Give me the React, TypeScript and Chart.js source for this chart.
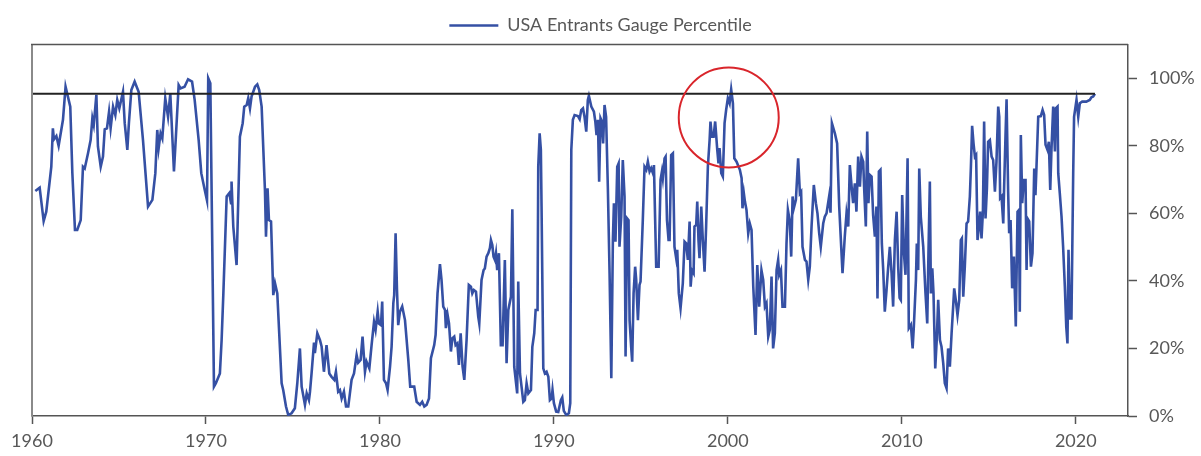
import React, { useEffect, useRef } from "react";
import { Chart, registerables } from "chart.js";

Chart.register(...registerables);

// ---- Data (decimal year, percentile %) ----
const years1960s = [1960.19, 1960.44, 1960.67, 1960.82, 1961.11, 1961.2, 1961.26, 1961.4, 1961.53, 1961.78, 1961.93, 1962.2, 1962.32, 1962.47, 1962.6, 1962.8, 1962.93, 1963.03, 1963.22, 1963.37, 1963.47, 1963.55, 1963.7, 1963.79, 1963.95, 1964.08, 1964.18, 1964.31, 1964.43, 1964.52, 1964.66, 1964.79, 1964.9, 1965.02, 1965.23, 1965.33, 1965.48, 1965.57, 1965.71, 1965.9, 1966.13, 1966.38, 1966.67, 1966.92, 1967.09, 1967.2, 1967.28, 1967.39, 1967.49, 1967.66, 1967.82, 1967.95, 1968.16, 1968.26, 1968.43, 1968.54, 1968.77, 1968.97, 1969.2, 1969.35, 1969.58, 1969.73, 1969.93];
const pct1960s = [66.6, 67.6, 57.7, 60.5, 73.8, 85.2, 81.9, 82.9, 80, 87.7, 97.5, 91.6, 71.9, 55.1, 55.1, 58, 73.8, 73.3, 77.8, 81.7, 88.2, 86.2, 95.1, 79.8, 73.8, 76.8, 84.9, 85.2, 90.1, 85.2, 91.6, 89.1, 93.6, 91.1, 96, 86.7, 78.8, 86.7, 96.5, 99, 96, 81.7, 62, 64, 71.9, 84.7, 79.3, 83.7, 82.2, 94.1, 88.6, 95.4, 72.4, 81.7, 98, 97, 97.5, 99.7, 99, 93.6, 81.7, 71.9, 66.9];

const years1970s = [1970.06, 1970.13, 1970.25, 1970.46, 1970.57, 1970.8, 1970.9, 1971, 1971.19, 1971.34, 1971.44, 1971.47, 1971.57, 1971.76, 1971.95, 1972.11, 1972.2, 1972.34, 1972.43, 1972.53, 1972.62, 1972.82, 1972.95, 1973.06, 1973.2, 1973.39, 1973.45, 1973.54, 1973.62, 1973.74, 1973.87, 1973.97, 1974.1, 1974.35, 1974.44, 1974.6, 1974.73, 1974.92, 1975.11, 1975.25, 1975.4, 1975.5, 1975.69, 1975.79, 1975.92, 1975.98, 1976.07, 1976.21, 1976.26, 1976.4, 1976.55, 1976.65, 1976.78, 1976.93, 1977.09, 1977.22, 1977.38, 1977.47, 1977.6, 1977.7, 1977.8, 1977.93, 1978.05, 1978.18, 1978.37, 1978.51, 1978.66, 1978.75, 1978.89, 1979, 1979.14, 1979.23, 1979.39, 1979.52, 1979.66, 1979.75];
const pct1970s = [63.8, 100, 98.5, 8.7, 9.7, 12.6, 22.5, 36.3, 65, 66, 63, 69.4, 56.1, 44.7, 82.7, 86.7, 91.6, 92.1, 94.1, 91.1, 94.6, 97.5, 98.2, 96.5, 91.6, 66.9, 53.1, 67.4, 58, 57.6, 35.8, 39.3, 36.3, 9.7, 7.7, 2.8, 0.3, 0.8, 2.3, 9.7, 20, 8.7, 3.3, 6.7, 4.7, 7.2, 12.6, 21.7, 18.6, 24.5, 22.5, 20.5, 13.1, 21, 12.6, 11.6, 10.7, 13.1, 7.2, 7.7, 5.2, 7.2, 2.8, 2.8, 10.7, 12.6, 18.1, 15.8, 16.6, 23.5, 13.1, 16.1, 14.1, 21, 27.9, 25.5];

const years1980s = [1979.87, 1979.94, 1980.06, 1980.13, 1980.23, 1980.35, 1980.44, 1980.58, 1980.67, 1980.77, 1980.82, 1980.9, 1980.98, 1981.05, 1981.15, 1981.28, 1981.44, 1981.63, 1981.74, 1981.97, 1982.11, 1982.3, 1982.43, 1982.55, 1982.68, 1982.82, 1982.93, 1983.12, 1983.2, 1983.31, 1983.45, 1983.54, 1983.64, 1983.74, 1983.79, 1983.89, 1983.97, 1984.08, 1984.16, 1984.27, 1984.35, 1984.45, 1984.54, 1984.64, 1984.75, 1984.85, 1984.98, 1985.11, 1985.23, 1985.31, 1985.4, 1985.52, 1985.65, 1985.71, 1985.84, 1985.96, 1986.03, 1986.13, 1986.23, 1986.32, 1986.38, 1986.46, 1986.53, 1986.61, 1986.67, 1986.74, 1986.84, 1986.95, 1987.05, 1987.18, 1987.28, 1987.38, 1987.53, 1987.61, 1987.72, 1987.89, 1987.95, 1988.05, 1988.14, 1988.24, 1988.33, 1988.43, 1988.53, 1988.68, 1988.76, 1988.87, 1988.95, 1989.06, 1989.1, 1989.18, 1989.25, 1989.29, 1989.39, 1989.48, 1989.58, 1989.68, 1989.77, 1989.87, 1989.92];
const pct1980s = [30.9, 27.4, 26.9, 33.9, 10.7, 9.7, 7.7, 14.6, 20.5, 33.4, 35.8, 54.1, 37.3, 26.9, 30.9, 32.4, 28.4, 16.6, 8.7, 8.7, 4.2, 3.3, 4.2, 2.8, 3.3, 5.2, 17.1, 21, 24, 36.3, 45, 40.3, 32.4, 31.4, 26, 29.9, 27.4, 19.1, 23, 23.5, 21, 21.5, 15.1, 24.5, 14.6, 10.7, 22.5, 38.8, 38.3, 36.3, 37.3, 36.8, 29.4, 27.4, 40.3, 43.2, 43.7, 47.2, 48.2, 49.7, 52.1, 50.6, 47.2, 46.2, 48.2, 43.2, 48.2, 21, 21, 46.2, 15.6, 31.4, 35.3, 61.2, 14.6, 6.7, 39.8, 12.6, 8.7, 4.2, 4.7, 9.7, 6.7, 7.7, 20.5, 24.5, 31.4, 31.4, 73.8, 83.7, 78.8, 62, 14.1, 12.6, 13.1, 11.6, 4.7, 5.2, 7.7];

const years1990s = [1990, 1990.13, 1990.25, 1990.4, 1990.48, 1990.57, 1990.71, 1990.86, 1990.94, 1991, 1991.09, 1991.19, 1991.38, 1991.48, 1991.57, 1991.67, 1991.76, 1991.86, 1991.95, 1992.01, 1992.15, 1992.3, 1992.38, 1992.45, 1992.53, 1992.6, 1992.68, 1992.76, 1992.83, 1992.91, 1993, 1993.1, 1993.2, 1993.3, 1993.39, 1993.45, 1993.54, 1993.64, 1993.72, 1993.77, 1993.87, 1993.96, 1994.06, 1994.12, 1994.21, 1994.29, 1994.35, 1994.44, 1994.5, 1994.58, 1994.67, 1994.73, 1994.83, 1994.92, 1994.98, 1995.11, 1995.21, 1995.31, 1995.4, 1995.5, 1995.59, 1995.69, 1995.75, 1995.82, 1995.88, 1996.02, 1996.13, 1996.21, 1996.26, 1996.36, 1996.42, 1996.5, 1996.59, 1996.65, 1996.74, 1996.84, 1996.93, 1997.03, 1997.09, 1997.18, 1997.28, 1997.41, 1997.51, 1997.6, 1997.7, 1997.8, 1997.86, 1997.93, 1998.03, 1998.08, 1998.18, 1998.24, 1998.31, 1998.37, 1998.47, 1998.56, 1998.66, 1998.75, 1998.85, 1998.95, 1999, 1999.08, 1999.18, 1999.27, 1999.39, 1999.46, 1999.52, 1999.62, 1999.71, 1999.81, 1999.9];
const pct1990s = [3.8, 1.3, 1.2, 4.7, 5.5, 1.5, 0.3, 0.8, 3.8, 78.8, 87.7, 89.1, 88.8, 87.9, 90.6, 91.1, 88.6, 84.2, 93.6, 94.8, 91.6, 90.1, 87.2, 83.2, 87.7, 69.4, 88.2, 87.2, 80.7, 92.1, 88.6, 67.9, 42.3, 11.2, 52.1, 63, 51.6, 73.8, 74.8, 50.1, 59, 75.8, 65, 17.6, 58.5, 58, 28.4, 20.5, 16.1, 36.3, 44.2, 40.3, 28.4, 38.8, 39.8, 58, 73.8, 72.9, 75.3, 72.4, 73.4, 71.9, 74.3, 58, 44.2, 44.2, 69.9, 72.4, 70.4, 76.3, 76.8, 58, 52.1, 52.1, 77.3, 77.8, 50.1, 46.7, 49.2, 36.3, 31.9, 39.3, 51.6, 51.1, 46.2, 57.6, 38.3, 43.2, 42.3, 56.1, 56.6, 63.5, 52.1, 46.7, 62, 52.1, 42.7, 56.1, 73.8, 81.7, 87.2, 82.7, 82.7, 87.2, 78.8, 74.8, 79.3, 71.9, 70.9, 86.7, 90.6];

const years2000s = [2000, 2000.1, 2000.19, 2000.29, 2000.37, 2000.5, 2000.69, 2000.79, 2000.84, 2000.92, 2000.98, 2001.07, 2001.17, 2001.26, 2001.36, 2001.46, 2001.59, 2001.69, 2001.8, 2001.93, 2002.03, 2002.13, 2002.22, 2002.32, 2002.41, 2002.51, 2002.6, 2002.7, 2002.8, 2002.89, 2002.95, 2003.05, 2003.14, 2003.28, 2003.37, 2003.45, 2003.56, 2003.64, 2003.72, 2003.79, 2003.91, 2004.04, 2004.14, 2004.21, 2004.29, 2004.43, 2004.52, 2004.62, 2004.71, 2004.81, 2004.94, 2005.06, 2005.15, 2005.25, 2005.34, 2005.48, 2005.57, 2005.67, 2005.82, 2005.9, 2005.98, 2006.15, 2006.28, 2006.4, 2006.59, 2006.72, 2006.82, 2006.92, 2007.01, 2007.13, 2007.2, 2007.3, 2007.39, 2007.49, 2007.59, 2007.68, 2007.78, 2007.83, 2007.93, 2008.01, 2008.08, 2008.16, 2008.26, 2008.35, 2008.45, 2008.54, 2008.6, 2008.68, 2008.77, 2008.85, 2008.93, 2009.02, 2009.12, 2009.21, 2009.31, 2009.41, 2009.5, 2009.6, 2009.7, 2009.79, 2009.87, 2009.94];
const pct2000s = [94.1, 92.6, 96.7, 92.6, 76.3, 75.3, 72.9, 70.4, 61.5, 65.9, 63.5, 61, 54.1, 57, 55.1, 38.3, 24, 44.7, 32.4, 43.2, 40.3, 32.4, 33.4, 23.5, 25.5, 41.3, 20, 24.5, 43.2, 46.2, 41.8, 43.2, 32.4, 32.4, 51.1, 61, 57.6, 47.2, 65, 61.5, 64, 76.3, 65.9, 66.4, 50.1, 46.2, 45.7, 40.3, 44.2, 56.1, 68.4, 63, 60, 54.1, 50.1, 57, 59, 60, 65, 60.2, 86.7, 83.7, 80.7, 62, 42.3, 53.1, 60, 56.1, 74.3, 66.9, 63, 68.9, 60.5, 76.8, 67.9, 76.8, 75.3, 67.9, 56.1, 84.2, 63, 71.4, 70.9, 59.5, 53.1, 62, 34.8, 72.4, 72.9, 51.1, 43.2, 30.9, 37.3, 43.7, 50.1, 42.3, 32.4, 52.1, 60.5, 44.2, 35, 34.4];

const years2010s = [2010.02, 2010.12, 2010.21, 2010.33, 2010.4, 2010.52, 2010.62, 2010.69, 2010.81, 2010.86, 2010.94, 2011, 2011.09, 2011.23, 2011.36, 2011.46, 2011.53, 2011.61, 2011.67, 2011.75, 2011.82, 2011.92, 2012.01, 2012.09, 2012.19, 2012.28, 2012.38, 2012.47, 2012.57, 2012.66, 2012.76, 2012.86, 2012.95, 2013.01, 2013.1, 2013.2, 2013.3, 2013.39, 2013.45, 2013.53, 2013.62, 2013.72, 2013.81, 2013.91, 2013.97, 2014.04, 2014.12, 2014.2, 2014.27, 2014.35, 2014.43, 2014.5, 2014.58, 2014.66, 2014.73, 2014.81, 2014.89, 2014.96, 2015.06, 2015.16, 2015.25, 2015.35, 2015.44, 2015.54, 2015.6, 2015.65, 2015.73, 2015.83, 2015.88, 2015.96, 2016.02, 2016.11, 2016.17, 2016.25, 2016.34, 2016.44, 2016.55, 2016.65, 2016.73, 2016.78, 2016.84, 2016.92, 2017.01, 2017.11, 2017.17, 2017.22, 2017.32, 2017.42, 2017.51, 2017.61, 2017.68, 2017.74, 2017.84, 2017.99, 2018.09, 2018.18, 2018.26, 2018.37, 2018.45, 2018.53, 2018.6, 2018.7, 2018.8, 2018.85, 2018.95, 2018.99, 2019.08, 2019.18, 2019.27, 2019.37, 2019.45, 2019.52, 2019.58, 2019.66, 2019.75, 2019.85, 2019.9];
const pct2010s = [65.4, 48.2, 41.8, 76.3, 26, 27, 20, 26.5, 40.3, 51.1, 43.2, 73.3, 59, 50.1, 36.3, 27.4, 48.2, 69.4, 36.3, 43.7, 36.3, 14.1, 23, 34.4, 22.5, 20.5, 15.6, 9.7, 8.2, 20, 14.6, 24.5, 32.4, 37.8, 34.4, 29.9, 34.4, 52.1, 52.6, 35.3, 44.2, 57, 57.6, 65, 73.8, 85.9, 80.7, 76.8, 77.3, 52.1, 56.1, 60.5, 52.6, 60.5, 87.2, 58.5, 67.4, 81.2, 81.7, 76.8, 75.8, 66.4, 75.3, 91.6, 88.6, 64.5, 65, 57, 67.9, 83.2, 93.8, 66.4, 54.1, 58, 37.8, 47.2, 26.5, 60.5, 61, 30.9, 83.2, 63, 69.9, 69.9, 43.2, 58.5, 57.6, 44.2, 48.2, 73.3, 65.4, 73.8, 88.6, 88.8, 90.6, 89.1, 80.3, 78.8, 81.2, 66.9, 78.8, 91.6, 78.3, 91.1, 91.6, 71.9, 65.9, 59, 50.1, 38.3, 26.5, 21.5, 49.2, 28.9, 28.9, 71.9, 88.6];

const years2020s = [2020.04, 2020.14, 2020.23, 2020.37, 2020.6, 2020.8, 2020.9, 2021, 2021.1];
const pct2020s = [93.6, 88.6, 92.6, 93.1, 93.1, 93.6, 94.4, 94.6, 95.4];

const SERIES_LABEL = "USA Entrants Gauge Percentile";
const THRESHOLD = 95.4;
const THRESHOLD_SPAN = [1960, 2021.1];
const X_TICKS = [1960, 1970, 1980, 1990, 2000, 2010, 2020];
const Y_TICKS = [0, 20, 40, 60, 80, 100];
const HIGHLIGHT = { x: 2000.05, y: 88.4 };

const yearChunks = [years1960s, years1970s, years1980s, years1990s, years2000s, years2010s, years2020s];
const pctChunks = [pct1960s, pct1970s, pct1980s, pct1990s, pct2000s, pct2010s, pct2020s];

const FONT = "Lato, 'Open Sans', sans-serif";
const TEXT = "#585858";
const AXIS = "#555555";
const LEFT_BORDER = "#8a8a8a";

const overlayPlugin = {
  id: "overlay",
  afterDatasetsDraw(chart: any) {
    const { ctx, chartArea, scales } = chart;
    const { left, top, right, bottom } = chartArea;
    ctx.save();
    ctx.strokeStyle = LEFT_BORDER;
    ctx.lineWidth = 2;
    ctx.beginPath();
    ctx.moveTo(left, bottom);
    ctx.lineTo(left, top);
    ctx.stroke();
    ctx.strokeStyle = AXIS;
    ctx.lineWidth = 1.5;
    ctx.beginPath();
    ctx.moveTo(left - 1, top);
    ctx.lineTo(right, top);
    ctx.stroke();
    const cx = scales.x.getPixelForValue(HIGHLIGHT.x);
    const cy = scales.y.getPixelForValue(HIGHLIGHT.y);
    ctx.strokeStyle = "#d9252b";
    ctx.lineWidth = 2;
    ctx.beginPath();
    ctx.arc(cx, cy, 50, 0, Math.PI * 2);
    ctx.stroke();
    ctx.restore();
  },
};

export default function App() {
  const ref = useRef<HTMLCanvasElement | null>(null);

  useEffect(() => {
    document.body.style.margin = "0";
    const points: { x: number; y: number }[] = [];
    yearChunks.forEach((ys, i) => {
      ys.forEach((yr, j) => points.push({ x: yr, y: pctChunks[i][j] }));
    });

    const chart = new Chart(ref.current as HTMLCanvasElement, {
      type: "line",
      data: {
        datasets: [
          {
            label: SERIES_LABEL,
            data: points,
            borderColor: "#3550a4",
            backgroundColor: "#3550a4",
            borderWidth: 2.6,
            pointRadius: 0,
            tension: 0,
            order: 1,
          },
          {
            label: "threshold",
            data: [
              { x: THRESHOLD_SPAN[0], y: THRESHOLD },
              { x: THRESHOLD_SPAN[1], y: THRESHOLD },
            ],
            borderColor: "#222222",
            borderWidth: 2,
            pointRadius: 0,
            order: 0,
          },
        ],
      },
      options: {
        animation: false,
        responsive: false,
        maintainAspectRatio: false,
        layout: { padding: 0 },
        plugins: {
          tooltip: { enabled: false },
          legend: {
            position: "top",
            align: "center",
            labels: {
              usePointStyle: true,
              pointStyle: "line",
              pointStyleWidth: 49,
              padding: 6,
              color: TEXT,
              font: { family: FONT, size: 18 },
              filter: (item: any) => item.datasetIndex === 0,
            },
          },
        },
        scales: {
          x: {
            type: "linear",
            position: "bottom",
            min: 1960,
            max: 2023,
            afterBuildTicks: (s: any) => {
              s.ticks = X_TICKS.map((v) => ({ value: v }));
            },
            afterFit: (s: any) => {
              s.height = 40;
              s.paddingLeft = 32;
              s.paddingRight = 0;
            },
            grid: {
              drawOnChartArea: false,
              drawTicks: true,
              tickLength: 8,
              tickColor: AXIS,
              tickWidth: 1.5,
            },
            border: { display: true, color: AXIS, width: 1.5 },
            ticks: {
              autoSkip: false,
              maxRotation: 0,
              padding: 6,
              color: TEXT,
              font: { family: FONT, size: 18 },
              callback: (v: any) => String(v),
            },
          },
          y: {
            type: "linear",
            position: "right",
            min: 0,
            max: 110,
            afterBuildTicks: (s: any) => {
              s.ticks = Y_TICKS.map((v) => ({ value: v }));
            },
            afterFit: (s: any) => {
              s.width = 73;
              s.paddingTop = 44.5;
            },
            grid: {
              drawOnChartArea: false,
              drawTicks: true,
              tickLength: 9,
              tickColor: AXIS,
              tickWidth: 1.5,
            },
            border: { display: true, color: AXIS, width: 1.5 },
            ticks: {
              padding: 12,
              color: TEXT,
              font: { family: FONT, size: 18 },
              callback: (v: any) => v + "%",
            },
          },
        },
      },
      plugins: [overlayPlugin],
    });
    return () => chart.destroy();
  }, []);

  return (
    <div style={{ width: 1201, height: 456 }}>
      <canvas ref={ref} width={1201} height={456} style={{ display: "block" }} />
    </div>
  );
}
